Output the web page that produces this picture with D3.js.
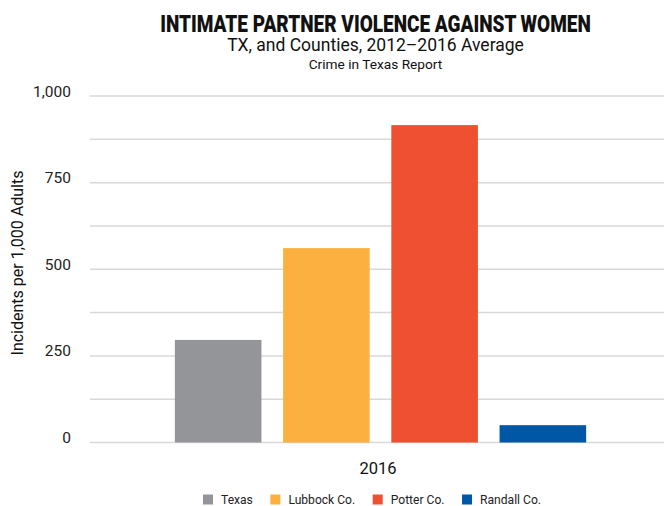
<!DOCTYPE html>
<html>
<head>
<meta charset="utf-8">
<script src="https://cdn.jsdelivr.net/npm/d3@7/dist/d3.min.js"></script>
<style>
  html, body { margin: 0; padding: 0; background: #fff; }
  svg { display: block; font-family: Roboto, "Noto Sans", sans-serif; }
</style>
</head>
<body>
<svg id="chart" width="664" height="506"></svg>
<script>
// Chart data
const categories = ["2016"];
const seriesNames = ["Texas", "Lubbock Co.", "Potter Co.", "Randall Co."];
const seriesValues = [296, 561, 916, 50];
const seriesColors = ["#939598", "#FBB040", "#F05032", "#0057A5"];
const gridValues = [0, 125, 250, 375, 500, 625, 750, 875, 1000];
const labelValues = [0, 250, 500, 750, 1000];

const svg = d3.select("#chart");
const plot = { left: 90, right: 671, top: 96, bottom: 442.5 };

const y = d3.scaleLinear().domain([0, 1000]).range([plot.bottom, plot.top]);
const x0 = d3.scaleBand().domain(categories).range([plot.left, plot.right])
  .paddingInner(0).paddingOuter(0.171);
const x1 = d3.scaleBand().domain(seriesNames).range([0, x0.bandwidth()])
  .paddingInner(0.2).paddingOuter(0.1);

// Titles: the heading is a condensed heavy face, so squeeze it horizontally
const title = svg.append("text")
  .attr("text-anchor", "middle")
  .attr("font-size", 23).attr("font-weight", 900)
  .attr("fill", "#111")
  .text("INTIMATE PARTNER VIOLENCE AGAINST WOMEN");
const titleScale = 431 / title.node().getComputedTextLength();
title.attr("transform", `translate(375.5,31.7) scale(${titleScale},1)`);

svg.append("text")
  .attr("x", 375.5).attr("y", 51)
  .attr("text-anchor", "middle")
  .attr("font-size", 17.5).attr("fill", "#111")
  .text("TX, and Counties, 2012\u20132016 Average");
svg.append("text")
  .attr("x", 375.5).attr("y", 69)
  .attr("text-anchor", "middle")
  .attr("font-size", 13.7).attr("fill", "#111")
  .text("Crime in Texas Report");

// Gridlines
svg.append("g").selectAll("line")
  .data(gridValues)
  .join("line")
  .attr("x1", plot.left).attr("x2", plot.right)
  .attr("y1", d => y(d)).attr("y2", d => y(d))
  .attr("stroke", "#d9d9d9").attr("stroke-width", 1.5);

// Y axis labels
const yAxis = svg.append("g")
  .attr("transform", `translate(${plot.left},0)`)
  .call(d3.axisLeft(y).tickValues(labelValues).tickSize(0).tickPadding(19)
    .tickFormat(d3.format(",")));
yAxis.select(".domain").remove();
yAxis.selectAll("text")
  .attr("dy", "0")
  .attr("font-size", 15.5)
  .attr("font-family", "Roboto, sans-serif")
  .attr("fill", "#222");

// Y axis title
svg.append("text")
  .attr("transform", "translate(23,263) rotate(-90)")
  .attr("text-anchor", "middle")
  .attr("font-size", 16).attr("fill", "#111")
  .text("Incidents per 1,000 Adults");

// Bars
const groups = svg.append("g").selectAll("g")
  .data(categories)
  .join("g")
  .attr("transform", d => `translate(${x0(d)},0)`);
groups.selectAll("rect")
  .data(() => seriesNames.map((name, i) => ({ name, value: seriesValues[i], color: seriesColors[i] })))
  .join("rect")
  .attr("x", d => x1(d.name))
  .attr("width", x1.bandwidth())
  .attr("y", d => y(d.value))
  .attr("height", d => y(0) - y(d.value))
  .attr("fill", d => d.color);

// X category label
svg.append("g").selectAll("text")
  .data(categories)
  .join("text")
  .attr("x", d => x0(d) + x0.bandwidth() / 2 - 2.5)
  .attr("y", 474)
  .attr("text-anchor", "middle")
  .attr("font-size", 16.5).attr("fill", "#111")
  .text(d => d);

// Legend
const legend = svg.append("g");
const items = legend.selectAll("g")
  .data(seriesNames.map((name, i) => ({ name, color: seriesColors[i] })))
  .join("g");
items.append("rect")
  .attr("width", 10).attr("height", 10)
  .attr("y", 494.5)
  .attr("fill", d => d.color);
items.append("text")
  .attr("x", 18).attr("y", 504)
  .attr("font-size", 12.1).attr("fill", "#222")
  .text(d => d.name);
const gap = 17.5;
const widths = [];
items.each(function () { widths.push(this.getBBox().width); });
const total = d3.sum(widths) + gap * (widths.length - 1);
let cursor = 372 - total / 2;
items.each(function (d, i) {
  d3.select(this).attr("transform", `translate(${cursor},0)`);
  cursor += widths[i] + gap;
});
</script>
</body>
</html>
